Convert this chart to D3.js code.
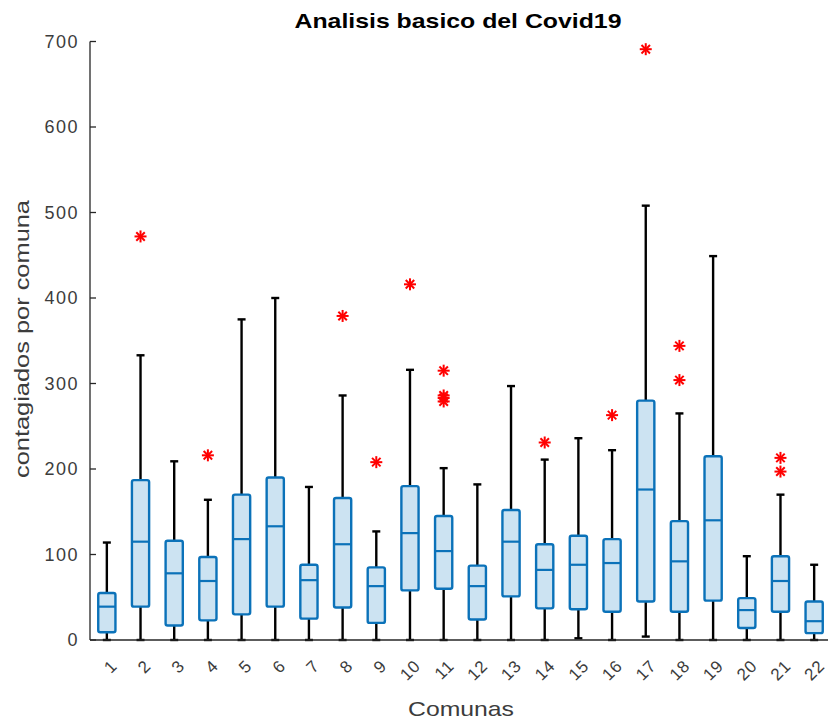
<!DOCTYPE html>
<html>
<head>
<meta charset="utf-8">
<script src="https://cdn.jsdelivr.net/npm/d3@7"></script>
<style>
  html, body { margin: 0; padding: 0; background: #ffffff; }
  svg { display: block; }
  text { font-family: "Liberation Sans", Arial, Helvetica, sans-serif; fill: #3c3c3c; }
</style>
</head>
<body>
<svg id="chart" width="828" height="719"></svg>
<script>
// Box-plot summaries of daily cases per comuna
const comunas   = ["1","2","3","4","5","6","7","8","9","10","11","12","13","14","15","16","17","18","19","20","21","22"];
const whiskerLo = [0, 0, 0, 0, 0, 0, 0, 0, 0, 0, 0, 0, 0, 0, 2, 0, 4, 0, 0, 0, 0, 0];
const q1        = [9, 39, 17, 23, 30, 39, 25, 38, 20, 58, 60, 24, 51, 37, 36, 33, 45, 33, 46, 14, 33, 8];
const medians   = [39, 115, 78, 69, 118, 133, 70, 112, 63, 125, 104, 63, 115, 82, 88, 90, 176, 92, 140, 35, 69, 22];
const q3        = [55, 187, 116, 97, 170, 190, 88, 166, 85, 180, 145, 87, 152, 112, 122, 118, 280, 139, 215, 49, 98, 45];
const whiskerHi = [114, 333, 209, 164, 375, 400, 179, 286, 127, 316, 201, 182, 297, 211, 236, 222, 508, 265, 449, 98, 170, 88];
const outliers  = [[], [472], [], [216], [], [], [], [379], [208], [416], [315, 286, 283, 279], [], [], [231], [], [263], [691], [344, 304], [], [], [213, 197], []];
const yTicks    = [0, 100, 200, 300, 400, 500, 600, 700];

const svg = d3.select("#chart");
const axisColor = "#262626";

const x = d3.scaleLinear().domain([0.5, 22.5]).range([90, 831]);
const y = d3.scaleLinear().domain([0, 700]).range([640, 41.5]);

const boxHalf = 8.6;   // half box width (px)
const capHalf = 4;     // half whisker-cap width (px)

const g = svg.append("g");
comunas.forEach((c, i) => {
  const cx = x(i + 1);
  const grp = g.append("g");
  // upper whisker and cap
  grp.append("line").attr("x1", cx).attr("x2", cx)
    .attr("y1", y(q3[i])).attr("y2", y(whiskerHi[i]))
    .attr("stroke", "#000").attr("stroke-width", 2.4);
  grp.append("line").attr("x1", cx - capHalf).attr("x2", cx + capHalf)
    .attr("y1", y(whiskerHi[i])).attr("y2", y(whiskerHi[i]))
    .attr("stroke", "#000").attr("stroke-width", 2.4);
  // lower whisker and cap
  grp.append("line").attr("x1", cx).attr("x2", cx)
    .attr("y1", y(q1[i])).attr("y2", y(whiskerLo[i]))
    .attr("stroke", "#000").attr("stroke-width", 2.4);
  grp.append("line").attr("x1", cx - capHalf).attr("x2", cx + capHalf)
    .attr("y1", y(whiskerLo[i])).attr("y2", y(whiskerLo[i]))
    .attr("stroke", "#000").attr("stroke-width", 2.4);
  // box
  grp.append("rect")
    .attr("x", cx - boxHalf).attr("width", boxHalf * 2)
    .attr("y", y(q3[i])).attr("height", y(q1[i]) - y(q3[i]))
    .attr("rx", 2).attr("ry", 2)
    .attr("fill", "#cce3f2").attr("stroke", "#0b72b9").attr("stroke-width", 2.4);
  // median
  grp.append("line").attr("x1", cx - boxHalf).attr("x2", cx + boxHalf)
    .attr("y1", y(medians[i])).attr("y2", y(medians[i]))
    .attr("stroke", "#0b72b9").attr("stroke-width", 2.2);
  // outliers as asterisks
  outliers[i].forEach(v => {
    const s = grp.append("g").attr("transform", `translate(${cx},${y(v)})`);
    const r = 6;
    [0, 45, 90, 135].forEach(a => {
      const rad = a * Math.PI / 180;
      s.append("line")
        .attr("x1", -r * Math.cos(rad)).attr("y1", -r * Math.sin(rad))
        .attr("x2", r * Math.cos(rad)).attr("y2", r * Math.sin(rad))
        .attr("stroke", "#ff0000").attr("stroke-width", 2);
    });
  });
});

// Axis lines
svg.append("line").attr("x1", x(0.5)).attr("x2", x(0.5))
  .attr("y1", y(0)).attr("y2", y(700)).attr("stroke", axisColor).attr("stroke-width", 1.3);
svg.append("line").attr("x1", x(0.5)).attr("x2", 828)
  .attr("y1", y(0)).attr("y2", y(0)).attr("stroke", axisColor).attr("stroke-width", 1.3);

// Y ticks (inside) and labels
yTicks.forEach(t => {
  svg.append("line").attr("x1", x(0.5)).attr("x2", x(0.5) + 6)
    .attr("y1", y(t)).attr("y2", y(t)).attr("stroke", axisColor).attr("stroke-width", 1.3);
  svg.append("text").attr("x", 79).attr("y", y(t)).attr("dy", "0.36em")
    .attr("text-anchor", "end").attr("font-size", 18)
    .attr("letter-spacing", 1.5)
    .text(t);
});

// X tick labels, rotated
comunas.forEach((c, i) => {
  const bx = x(i + 1) + 11.5, by = 667;
  svg.append("text")
    .attr("transform", `translate(${bx},${by}) rotate(-45)`)
    .attr("text-anchor", "end").attr("font-size", 17)
    .attr("letter-spacing", 0.8)
    .text(c);
});

// Title and axis labels
svg.append("text").attr("x", 458).attr("y", 28)
  .attr("text-anchor", "middle").attr("font-size", 21).attr("font-weight", "bold")
  .style("fill", "#000")
  .attr("textLength", 327).attr("lengthAdjust", "spacingAndGlyphs")
  .text("Analisis basico del Covid19");

svg.append("text").attr("x", 461).attr("y", 716)
  .attr("text-anchor", "middle").attr("font-size", 21)
  .attr("textLength", 106).attr("lengthAdjust", "spacingAndGlyphs")
  .text("Comunas");

svg.append("text")
  .attr("transform", "translate(29,339) rotate(-90)")
  .attr("text-anchor", "middle").attr("font-size", 20)
  .attr("textLength", 278).attr("lengthAdjust", "spacingAndGlyphs")
  .text("contagiados por comuna");
</script>
</body>
</html>
